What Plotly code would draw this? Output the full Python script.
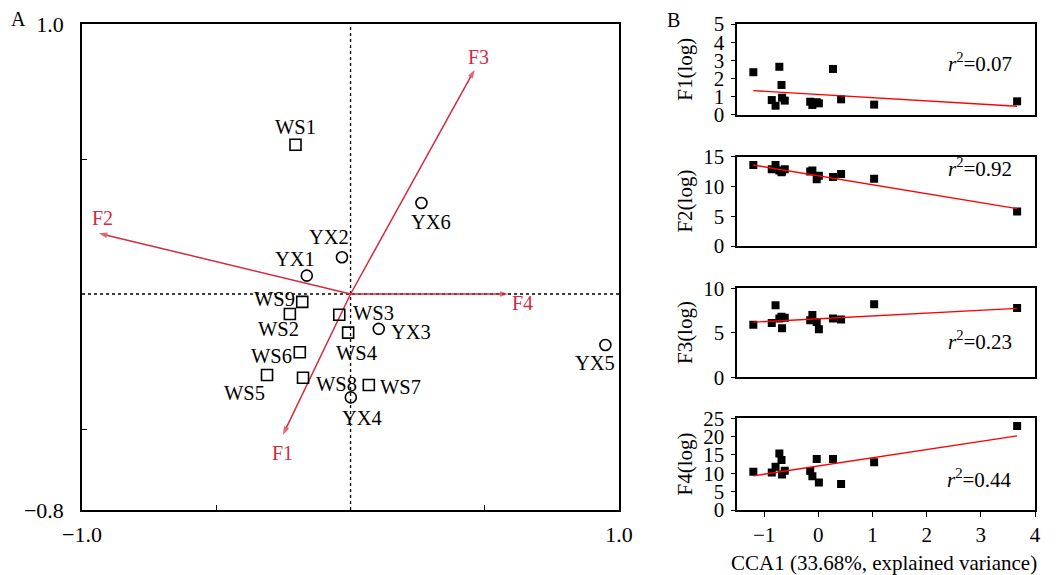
import numpy as np
import plotly.graph_objects as go

# ---------------- Panel A: CCA biplot ----------------
site_names = ["WS1", "WS2", "WS3", "WS4", "WS5", "WS6", "WS7", "WS8", "WS9",
              "YX1", "YX2", "YX3", "YX4", "YX5", "YX6"]
site_x = [-0.205, -0.226, -0.042, -0.009, -0.311, -0.189, 0.068, -0.177, -0.180,
          -0.163, -0.032, 0.105, 0.001, 0.949, 0.264]
site_y = [0.553, -0.074, -0.077, -0.143, -0.300, -0.216, -0.337, -0.310, -0.029,
          0.068, 0.136, -0.129, -0.383, -0.189, 0.337]
env_names = ["F1", "F2", "F3", "F4"]
env_x = [-0.252, -0.938, 0.462, 0.588]
env_y = [-0.522, 0.225, 0.831, 0.0]

# ---------------- Panel B: regressions on CCA1 ----------------
cca1 = [-1.20, -0.86, -0.79, -0.72, -0.68, -0.67, -0.62, -0.15, -0.11, -0.03,
        0.01, 0.27, 0.42, 1.03, 3.67]
f1_log = [2.35, 0.82, 0.51, 2.65, 1.65, 0.95, 0.79, 0.73, 0.55, 0.70, 0.64, 2.53, 0.86, 0.57, 0.75]
f2_log = [13.6, 12.9, 13.6, 12.7, 12.4, 12.5, 12.9, 12.5, 12.7, 11.2, 11.8, 11.6, 12.1, 11.3, 5.8]
f3_log = [5.9, 6.1, 8.1, 6.6, 6.8, 5.5, 6.7, 6.4, 7.0, 6.2, 5.4, 6.6, 6.5, 8.2, 7.8]
f4_log = [10.4, 10.2, 11.8, 15.4, 13.6, 9.7, 10.7, 10.6, 9.2, 13.9, 7.5, 13.9, 7.1, 13.0, 22.9]
panel_titles = ["F1(log)", "F2(log)", "F3(log)", "F4(log)"]
trend_slope = [-0.177, -1.503, 0.318, 2.24]
trend_intercept = [1.128, 11.8, 6.58, 11.99]
r2_values = ["0.07", "0.92", "0.23", "0.44"]
y_ranges = [[0, 5], [0, 15], [0, 10], [0, 25]]
y_dticks = [1, 5, 5, 5]

# ---------------- styling ----------------
FONT = "Liberation Serif"
RED = "#d42a3f"
label_shift = {  # pixel offsets (dx right, dy down) of site labels from their markers
    "WS1": (0, -18), "WS2": (-11, 15), "WS3": (34, -2), "WS4": (8, 20),
    "WS5": (-23, 18), "WS6": (-28, 4), "WS7": (32, 2), "WS8": (33, 6),
    "WS9": (-28, -3), "YX1": (-12, -17), "YX2": (-13, -20), "YX3": (32, 3),
    "YX4": (11, 21), "YX5": (-10, 18), "YX6": (10, 19),
}
env_label_shift = {"F1": (0, 18), "F2": (4, -15), "F3": (4, -13), "F4": (14, 9)}

fig = go.Figure()

# environmental arrows (lines with arrowhead markers)
for n, xv, yv in zip(env_names, env_x, env_y):
    fig.add_trace(go.Scatter(
        x=[0, xv], y=[0, yv], mode="lines+markers",
        line=dict(color=RED, width=1.5),
        marker=dict(symbol=["circle", "arrow"], size=[0, 9], color=RED, angleref="previous",
                    line=dict(width=0)),
        xaxis="x", yaxis="y", showlegend=False, hoverinfo="skip"))

ws_idx = [i for i, n in enumerate(site_names) if n.startswith("WS")]
yx_idx = [i for i, n in enumerate(site_names) if n.startswith("YX")]
fig.add_trace(go.Scatter(
    x=[site_x[i] for i in ws_idx], y=[site_y[i] for i in ws_idx], mode="markers",
    marker=dict(symbol="square-open", size=11, color="black", line=dict(width=1.6)),
    xaxis="x", yaxis="y", showlegend=False, hoverinfo="skip"))
fig.add_trace(go.Scatter(
    x=[site_x[i] for i in yx_idx], y=[site_y[i] for i in yx_idx], mode="markers",
    marker=dict(symbol="circle-open", size=11, color="black", line=dict(width=1.6)),
    xaxis="x", yaxis="y", showlegend=False, hoverinfo="skip"))

annotations = []
for n, xv, yv in zip(site_names, site_x, site_y):
    dx, dy = label_shift[n]
    annotations.append(dict(x=xv, y=yv, xref="x", yref="y", text=n, showarrow=False,
                            xanchor="center", yanchor="middle",
                            xshift=dx, yshift=-dy, font=dict(family=FONT, size=20.5, color="black")))
for n, xv, yv in zip(env_names, env_x, env_y):
    dx, dy = env_label_shift[n]
    annotations.append(dict(x=xv, y=yv, xref="x", yref="y", text=n, showarrow=False,
                            xanchor="center", yanchor="middle",
                            xshift=dx, yshift=-dy, font=dict(family=FONT, size=20, color=RED)))

shapes = [
    dict(type="line", xref="x", yref="y domain", x0=0, x1=0, y0=0, y1=1,
         line=dict(color="black", width=1.3, dash="3px,3px"), layer="below"),
    dict(type="line", xref="x domain", yref="y", x0=0, x1=1, y0=0, y1=0,
         line=dict(color="black", width=1.3, dash="3px,3px"), layer="below"),
]

# right panels
series = [f1_log, f2_log, f3_log, f4_log]
x_lo, x_hi = min(cca1), max(cca1)
for k in range(4):
    xa = "x%d" % (k + 2)
    ya = "y%d" % (k + 2)
    fig.add_trace(go.Scatter(
        x=cca1, y=series[k], mode="markers",
        marker=dict(symbol="square", size=8, color="black"),
        xaxis=xa, yaxis=ya, showlegend=False, hoverinfo="skip"))
    fx = [x_lo, x_hi]
    fy = [trend_intercept[k] + trend_slope[k] * v for v in fx]
    fig.add_trace(go.Scatter(
        x=fx, y=fy, mode="lines", line=dict(color="#ff0000", width=1.4),
        xaxis=xa, yaxis=ya, showlegend=False, hoverinfo="skip"))

r2_pos_y = [2.9, 13.25, 4.1, 8.7]
for k in range(4):
    annotations.append(dict(x=2.98, y=r2_pos_y[k], xref="x%d" % (k + 2), yref="y%d" % (k + 2),
                            xanchor="center", yanchor="middle",
                            text="<i>r</i><sup>2</sup>=" + r2_values[k], showarrow=False,
                            font=dict(family=FONT, size=21, color="black")))

domains = [[0.8128, 1.0], [0.5432, 0.727], [0.273, 0.4562], [0.0, 0.1887]]
for k in range(4):
    annotations.append(dict(x=0.633, y=sum(domains[k]) / 2, xref="paper", yref="paper",
                            xanchor="center", yanchor="middle",
                            text=panel_titles[k], textangle=-90, showarrow=False,
                            font=dict(family=FONT, size=21, color="black")))

annotations.append(dict(x=0.842, y=-0.109, xref="paper", yref="paper",
                        xanchor="center", yanchor="middle",
                        text="CCA1 (33.68%, explained variance)", showarrow=False,
                        font=dict(family=FONT, size=21, color="black")))
annotations.append(dict(x=-0.067, y=1.01, xref="paper", yref="paper", text="A",
                        xanchor="center", yanchor="middle",
                        showarrow=False, font=dict(family=FONT, size=20, color="black")))
annotations.append(dict(x=0.6205, y=1.008, xref="paper", yref="paper", text="B",
                        xanchor="center", yanchor="middle",
                        showarrow=False, font=dict(family=FONT, size=20, color="black")))

axis_common = dict(showline=True, linecolor="black", linewidth=1.5, mirror=True,
                   showgrid=False, zeroline=False)

layout = dict(
    width=1056, height=575,
    margin=dict(l=82, r=7, t=24, b=65),
    paper_bgcolor="white", plot_bgcolor="white",
    annotations=annotations, shapes=shapes,
    xaxis=dict(domain=[0, 0.5636], range=[-1, 1], anchor="y",
               tickvals=[-1, 1], ticktext=["\u22121.0", "1.0"],
               ticks="inside", ticklen=5, tickwidth=1.3, tickcolor="black",
               minor=dict(tickvals=[-0.5, 0.5], ticks="inside", ticklen=5, tickwidth=1.3,
                          tickcolor="black", showgrid=False),
               ticklabelstandoff=4, tickfont=dict(family=FONT, size=22, color="black"),
               **axis_common),
    yaxis=dict(domain=[0, 1], range=[-0.8, 1.0], anchor="x",
               tickvals=[-0.8, 1.0], ticktext=["\u22120.8", "1.0"],
               ticks="inside", ticklen=5, tickwidth=1.3, tickcolor="black",
               minor=dict(tickvals=[-0.5, 0.5], ticks="inside", ticklen=5, tickwidth=1.3,
                          tickcolor="black", showgrid=False),
               ticklabelstandoff=12, tickfont=dict(family=FONT, size=22, color="black"),
               **axis_common),
)
for k in range(4):
    xname = "xaxis%d" % (k + 2)
    yname = "yaxis%d" % (k + 2)
    last = (k == 3)
    xa = dict(domain=[0.6874, 1.0], range=[-1.5, 4], anchor="y%d" % (k + 2),
              tickfont=dict(family=FONT, size=21, color="black"), **axis_common)
    if last:
        xa.update(tickvals=[-1, 0, 1, 2, 3, 4], ticks="outside", ticklen=5, tickwidth=1.3,
                  tickcolor="black", showticklabels=True, ticklabelstandoff=0)
    else:
        xa.update(ticks="", showticklabels=False)
    layout[xname] = xa
    layout[yname] = dict(domain=domains[k], range=y_ranges[k], anchor="x%d" % (k + 2),
                         dtick=y_dticks[k], tick0=0, ticks="outside", ticklen=4,
                         tickwidth=1.3, tickcolor="black", ticklabelstandoff=3,
                         tickfont=dict(family=FONT, size=21, color="black"), **axis_common)

fig.update_layout(**layout)
# remove the default page margin so the 1056x575 figure fills the window exactly
fig.write_html("out.html", config={"displayModeBar": False},
               post_script="document.body.style.margin='0px';")
